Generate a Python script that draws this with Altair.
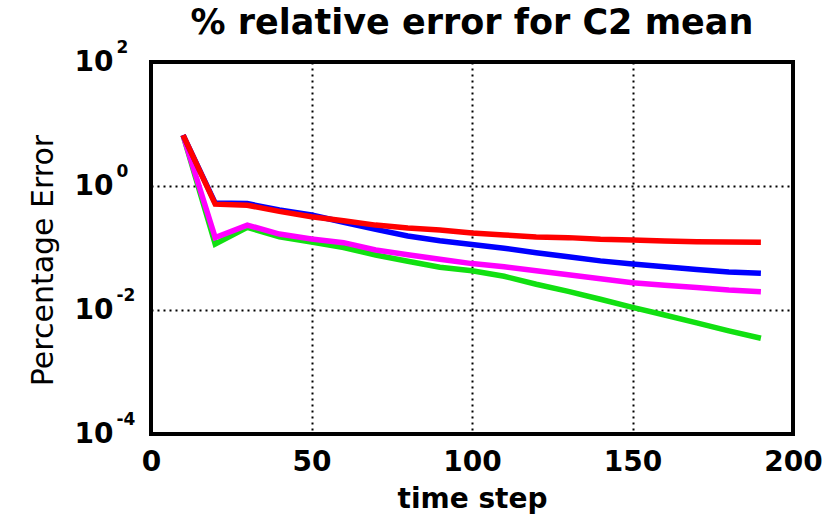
import altair as alt
import pandas as pd

steps = [10, 20, 30, 40, 50, 60, 70, 80, 90, 100, 110, 120, 130, 140, 150, 160, 170, 180, 190]
err_green = [6.6, 0.116, 0.215, 0.152, 0.125, 0.102, 0.077, 0.061, 0.049, 0.043, 0.035, 0.026, 0.020, 0.0149, 0.011, 0.0083, 0.0062, 0.0046, 0.0035]
err_magenta = [6.6, 0.147, 0.234, 0.168, 0.14, 0.122, 0.093, 0.078, 0.066, 0.056, 0.050, 0.043, 0.037, 0.032, 0.0276, 0.025, 0.023, 0.021, 0.0197]
err_blue = [6.6, 0.53, 0.52, 0.41, 0.34, 0.26, 0.2, 0.156, 0.131, 0.114, 0.099, 0.084, 0.072, 0.062, 0.055, 0.050, 0.045, 0.041, 0.039]
err_red = [6.6, 0.51, 0.49, 0.39, 0.32, 0.275, 0.234, 0.21, 0.195, 0.175, 0.162, 0.151, 0.147, 0.138, 0.135, 0.13, 0.126, 0.125, 0.124]

series_names = ["green", "magenta", "blue", "red"]
series_colors = ["#11e011", "#ff00ff", "#0000ff", "#ff0000"]
x_ticks = [0, 50, 100, 150, 200]
y_ticks = [1e-4, 1e-2, 1, 100]

rows = []
for i, (name, vals) in enumerate(zip(series_names, [err_green, err_magenta, err_blue, err_red])):
    for t, v in zip(steps, vals):
        rows.append({"step": t, "err": v, "series": name, "k": i})
df = pd.DataFrame(rows)

FONT = "DejaVu Sans"

xscale = alt.Scale(domain=[0, 200], nice=False, zero=False)
yscale = alt.Scale(type="log", domain=[1e-4, 100], nice=False)

lines = alt.Chart(df).mark_line(strokeWidth=5.5, clip=True).encode(
    x=alt.X("step:Q", scale=xscale,
            axis=alt.Axis(values=x_ticks, title="time step", grid=True,
                          gridDash=[2, 4], gridColor="black", gridWidth=2, gridOpacity=1,
                          ticks=False, domain=False, labelFont=FONT, labelFontSize=28,
                          labelFontWeight="bold", labelColor="black", labelPadding=14,
                          labelFlush=False,
                          titleFont=FONT, titleFontSize=28, titleFontWeight="bold",
                          titleColor="black", titlePadding=9)),
    y=alt.Y("err:Q", scale=yscale,
            axis=alt.Axis(values=y_ticks, labelExpr="'10'", title="Percentage Error", grid=True,
                          gridDash=[2, 4], gridColor="black", gridWidth=2, gridOpacity=1,
                          ticks=False, domain=False, labelFont=FONT, labelFontSize=28,
                          labelFontWeight="bold", labelColor="black", labelPadding=38,
                          labelBaseline="middle", labelFlush=False,
                          titleFont=FONT, titleFontSize=30, titleFontWeight="normal",
                          titleColor="black", titlePadding=16, titleY=198)),
    color=alt.Color("series:N", scale=alt.Scale(domain=series_names, range=series_colors), legend=None),
    detail="k:O",
)

expo = alt.Chart(pd.DataFrame({"v": y_ticks})).mark_point(opacity=0).encode(
    y=alt.Y("v:Q", scale=yscale,
            axis=alt.Axis(orient="left", values=y_ticks,
                          labelExpr="'' + round(log(datum.value) / LN10)",
                          labelAlign="left", labelPadding=35, labelOffset=-15,
                          labelFont=FONT, labelFontSize=17, labelFontWeight="bold",
                          labelColor="black", labelFlush=False,
                          ticks=False, domain=False, grid=False, title=None)),
)

chart = alt.layer(lines, expo).resolve_axis(y="independent").properties(
    width=642, height=372,
    autosize=alt.AutoSizeParams(type="none"),
    padding={"left": 151, "top": 62, "right": 42, "bottom": 85},
    title=alt.TitleParams("% relative error for C2 mean", font=FONT, fontSize=35,
                          fontWeight="bold", color="black", anchor="middle", frame="group",
                          offset=-3),
).configure(
    background="white",
    view=alt.ViewConfig(stroke="black", strokeWidth=4),
)

chart.save("out.html", embed_options={"renderer": "svg", "actions": False})
